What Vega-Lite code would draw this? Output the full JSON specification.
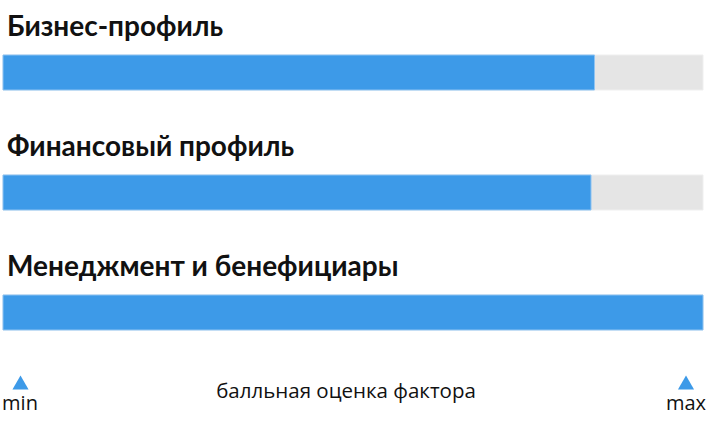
{
  "$schema": "https://vega.github.io/schema/vega-lite/v6.json",
  "width": 700,
  "height": 360,
  "autosize": "none",
  "padding": {"left": 3, "right": 3, "top": 12.5, "bottom": 49.5},
  "background": "white",
  "config": {"view": {"stroke": null}},
  "datasets": {
    "factors": [
      {"factor": "Бизнес-профиль", "score": 0.845, "max": 1},
      {"factor": "Финансовый профиль", "score": 0.84, "max": 1},
      {"factor": "Менеджмент и бенефициары", "score": 1.0, "max": 1}
    ],
    "ends": [
      {"end": "min", "pos": 0},
      {"end": "max", "pos": 1}
    ],
    "caption": [
      {"text": "балльная оценка фактора", "pos": 0.5}
    ]
  },
  "layer": [
    {
      "data": {"name": "factors"},
      "mark": {"type": "bar", "color": "#e5e5e5", "stroke": "#efefef", "strokeWidth": 1},
      "encoding": {
        "x": {"field": "max", "type": "quantitative", "scale": {"domain": [0, 1], "nice": false}, "axis": null},
        "y": {
          "field": "factor", "type": "nominal", "sort": null, "axis": null,
          "scale": {"paddingInner": 0.70833, "paddingOuter": 0.35417}
        }
      }
    },
    {
      "data": {"name": "factors"},
      "mark": {"type": "bar", "color": "#3d9ae8", "stroke": "#8ec3f2", "strokeWidth": 1},
      "encoding": {
        "x": {"field": "score", "type": "quantitative"},
        "y": {"field": "factor", "type": "nominal", "sort": null}
      }
    },
    {
      "data": {"name": "factors"},
      "mark": {"type": "text", "align": "left", "baseline": "alphabetic", "font": "Lato", "fontWeight": "bold", "fontSize": 28, "color": "#111111", "dx": 4, "yOffset": -36.5},
      "encoding": {
        "x": {"datum": 0, "type": "quantitative"},
        "y": {"field": "factor", "type": "nominal", "sort": null},
        "text": {"field": "factor"}
      }
    },
    {
      "data": {"name": "ends"},
      "transform": [{"filter": "datum.end == 'min'"}],
      "layer": [
        {
          "mark": {"type": "point", "shape": "triangle-up", "filled": true, "opacity": 1, "size": 260, "color": "#3d9ae8", "xOffset": 17.5, "yOffset": 70}
        },
        {
          "mark": {"type": "text", "align": "center", "baseline": "alphabetic", "font": "Open Sans", "fontSize": 20, "color": "#111111", "xOffset": 17, "yOffset": 97.5},
          "encoding": {"text": {"field": "end"}}
        }
      ],
      "encoding": {
        "x": {"field": "pos", "type": "quantitative"},
        "y": {"datum": "Менеджмент и бенефициары", "type": "nominal"}
      }
    },
    {
      "data": {"name": "ends"},
      "transform": [{"filter": "datum.end == 'max'"}],
      "layer": [
        {
          "mark": {"type": "point", "shape": "triangle-up", "filled": true, "opacity": 1, "size": 260, "color": "#3d9ae8", "xOffset": -17, "yOffset": 70}
        },
        {
          "mark": {"type": "text", "align": "center", "baseline": "alphabetic", "font": "Open Sans", "fontSize": 20, "color": "#111111", "xOffset": -17, "yOffset": 97.5},
          "encoding": {"text": {"field": "end"}}
        }
      ],
      "encoding": {
        "x": {"field": "pos", "type": "quantitative"},
        "y": {"datum": "Менеджмент и бенефициары", "type": "nominal"}
      }
    },
    {
      "data": {"name": "caption"},
      "mark": {"type": "text", "align": "center", "baseline": "alphabetic", "font": "Open Sans", "fontSize": 20.5, "color": "#111111", "yOffset": 85.5, "dx": -7},
      "encoding": {
        "x": {"field": "pos", "type": "quantitative"},
        "y": {"datum": "Менеджмент и бенефициары", "type": "nominal"},
        "text": {"field": "text"}
      }
    }
  ]
}
